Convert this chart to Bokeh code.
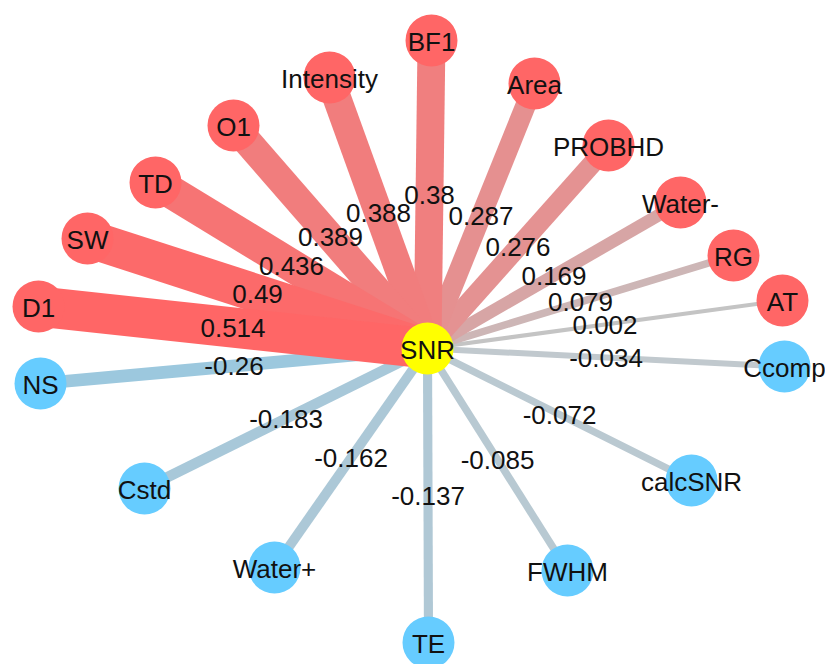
from bokeh.plotting import figure
from bokeh.models import ColumnDataSource, Range1d
from bokeh.embed import file_html
from bokeh.resources import INLINE
from bokeh.core.properties import value

# ---- data ----
hub = "SNR"
hub_x = 427
hub_y = 348

nodes = ["BF1", "Area", "PROBHD", "Water-", "RG", "AT", "Ccomp", "calcSNR", "FWHM",
         "TE", "Water+", "Cstd", "NS", "D1", "SW", "TD", "O1", "Intensity"]
node_x = [431, 534, 608, 680, 733, 782, 784, 691, 567, 428, 274, 144, 40, 38, 87, 155, 233, 329]
node_y = [40, 83, 145, 202, 255, 300, 366, 480, 570, 642, 567, 488, 383, 306, 238, 182, 125, 77]
corr = [0.38, 0.287, 0.276, 0.169, 0.079, 0.002, -0.034, -0.072, -0.085,
        -0.137, -0.162, -0.183, -0.26, 0.514, 0.49, 0.436, 0.389, 0.388]

# ---- styles ----
RED = (255, 102, 102)
GREY_POS = (196, 196, 196)
GREY_NEG = (198, 201, 204)
BLUE_E = (156, 200, 222)
NODE_RED = "#FF6666"
NODE_BLUE = "#66CCFF"
FONT = value("Liberation Sans")
FSIZE = "26px"
TCOL = "#111111"

pmax = max(c for c in corr if c > 0)
nmax = max(-c for c in corr if c < 0)


def mix(a, b, t):
    return "#%02x%02x%02x" % tuple(int(round(a[i] + (b[i] - a[i]) * t)) for i in range(3))


def edge_color(c):
    if c >= 0:
        return mix(GREY_POS, RED, c / pmax)
    return mix(GREY_NEG, BLUE_E, -c / nmax)


def edge_width(c):
    a = abs(c)
    if c >= 0:
        return 4 + 40 * a + 60 * a * a
    return 5 + 30 * a


order = sorted(range(len(nodes)), key=lambda i: (corr[i] > 0, abs(corr[i])))

edges = ColumnDataSource(dict(
    x0=[hub_x] * len(order), y0=[hub_y] * len(order),
    x1=[node_x[i] for i in order], y1=[node_y[i] for i in order],
    w=[edge_width(corr[i]) for i in order],
    c=[edge_color(corr[i]) for i in order],
))

node_src = ColumnDataSource(dict(
    x=node_x, y=node_y, name=nodes,
    fill=[NODE_RED if c > 0 else NODE_BLUE for c in corr],
))

elab = ColumnDataSource(dict(
    x=[(hub_x + node_x[i]) / 2 for i in range(len(nodes))],
    y=[(hub_y + node_y[i]) / 2 for i in range(len(nodes))],
    t=[str(c) for c in corr],
))

p = figure(width=825, height=664, x_range=Range1d(0, 825), y_range=Range1d(664, 0),
           x_axis_type=None, y_axis_type=None, toolbar_location=None,
           output_backend="svg", min_border=0, outline_line_color=None,
           background_fill_color="white")
p.grid.visible = False

p.segment("x0", "y0", "x1", "y1", source=edges, line_width="w", line_color="c",
          line_cap="butt")

p.scatter("x", "y", source=node_src, size=52, marker="circle", fill_color="fill",
          line_color=None)
p.scatter([hub_x], [hub_y], size=52, marker="circle", fill_color="#FFFF00", line_color=None)

p.text("x", "y", text="name", source=node_src, text_align="center", text_baseline="middle",
       text_font=FONT, text_font_size=FSIZE, text_color=TCOL, y_offset=1)
p.text([hub_x], [hub_y], text=[hub], text_align="center", text_baseline="middle",
       text_font=FONT, text_font_size=FSIZE, text_color=TCOL, y_offset=1)

p.text("x", "y", text="t", source=elab, text_align="center", text_baseline="middle",
       text_font=FONT, text_font_size=FSIZE, text_color=TCOL)

open("out.html", "w").write(file_html(p, INLINE))
